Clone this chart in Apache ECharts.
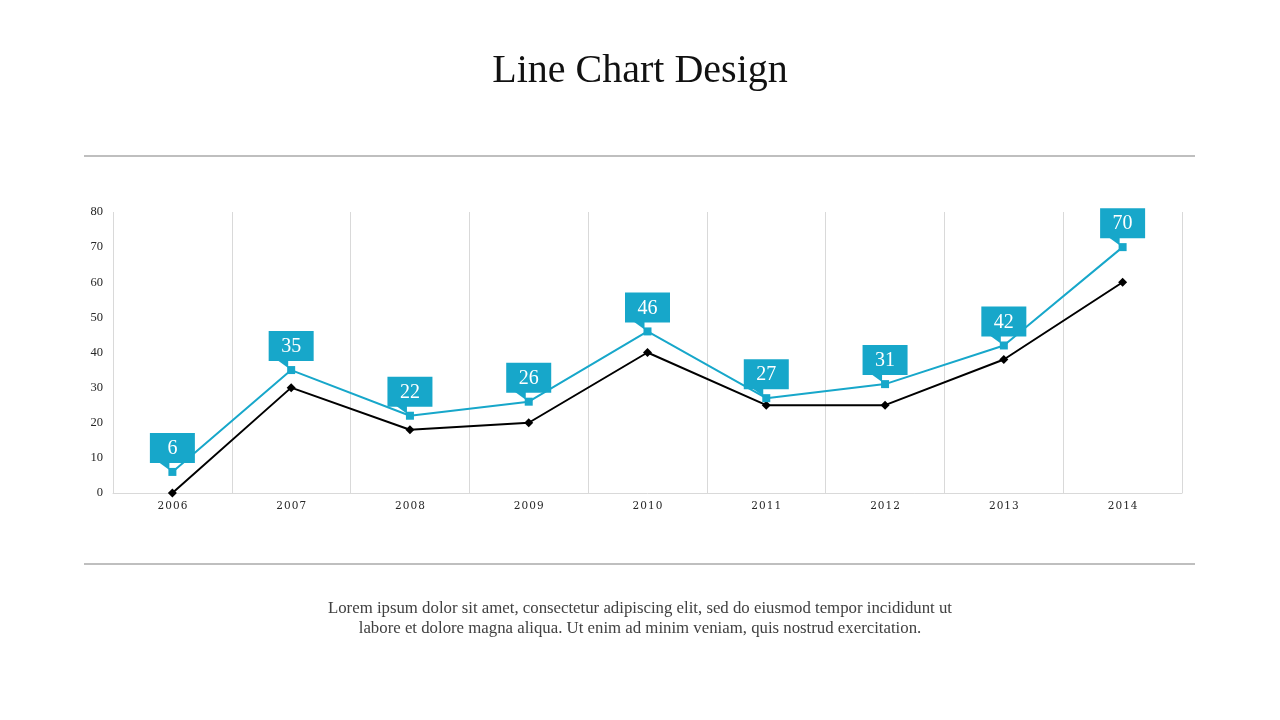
<!DOCTYPE html>
<html>
<head>
<meta charset="utf-8">
<script src="https://cdn.jsdelivr.net/npm/echarts@6/dist/echarts.min.js"></script>
<style>
html,body{margin:0;padding:0;background:#fff;}
#chart{width:1280px;height:720px;}
</style>
</head>
<body>
<div id="chart"></div>
<script>
const years = ['2006','2007','2008','2009','2010','2011','2012','2013','2014'];
const blueValues = [6, 35, 22, 26, 46, 27, 31, 42, 70];
const blackValues = [0, 30, 18, 20, 40, 25, 25, 38, 60];
const yTicks = [0, 10, 20, 30, 40, 50, 60, 70, 80];

const BLUE = '#17a7ca';
const SERIF = '"Liberation Serif", "DejaVu Serif", serif';

const chart = echarts.init(document.getElementById('chart'));

function renderCallout(params, api) {
  const idx = api.value(0);
  const val = api.value(1);
  const pt = api.coord([idx, val]);
  const x = pt[0], y = pt[1];
  const w = 45, h = 30, ptr = 9;
  const bottom = y - ptr;
  const top = bottom - h;
  return {
    type: 'group',
    children: [
      { type: 'rect', shape: { x: x - w / 2, y: top, width: w, height: h }, style: { fill: BLUE } },
      { type: 'polygon', shape: { points: [[x - 14, bottom - 1], [x - 3, bottom - 1], [x - 3, bottom + ptr - 2]] }, style: { fill: BLUE } },
      { type: 'text', style: { text: String(val), x: x, y: top + h / 2 + 1, align: 'center', verticalAlign: 'middle', fill: '#fff', font: '20px ' + SERIF } }
    ]
  };
}

chart.setOption({
  animation: false,
  title: {
    text: 'Line Chart Design',
    left: 'center',
    top: 46,
    textStyle: { fontFamily: SERIF, fontSize: 40, fontWeight: 'normal', color: '#111' }
  },
  graphic: [
    { type: 'line', shape: { x1: 84, y1: 156, x2: 1195, y2: 156 }, style: { stroke: '#bfbfbf', lineWidth: 2 } },
    { type: 'line', shape: { x1: 84, y1: 564, x2: 1195, y2: 564 }, style: { stroke: '#bfbfbf', lineWidth: 2 } },
    { type: 'text', x: 640, y: 599, style: {
        text: 'Lorem ipsum dolor sit amet, consectetur adipiscing elit, sed do eiusmod tempor incididunt ut\nlabore et dolore magna aliqua. Ut enim ad minim veniam, quis nostrud exercitation.',
        font: '16.8px ' + SERIF, fill: '#404040', align: 'center', verticalAlign: 'top', lineHeight: 20 } }
  ],
  grid: { left: 113, right: 98, top: 212, bottom: 227 },
  xAxis: {
    type: 'category',
    data: years,
    boundaryGap: true,
    axisLine: { show: true, lineStyle: { color: '#d9d9d9', width: 1 } },
    axisTick: { show: false },
    splitLine: { show: true, lineStyle: { color: '#d9d9d9', width: 1 } },
    axisLabel: { color: '#262626', fontFamily: '"DejaVu Serif", serif', fontSize: 10.5, margin: 8,
      formatter: v => v.split('').join('\u200a') }
  },
  yAxis: {
    type: 'value',
    min: 0, max: 80, interval: 10,
    axisLine: { show: false },
    axisTick: { show: false },
    splitLine: { show: false },
    axisLabel: { color: '#262626', fontFamily: SERIF, fontSize: 12.5, margin: 10,
      formatter: v => yTicks.indexOf(v) >= 0 ? String(v) : '' }
  },
  series: [
    {
      type: 'line', data: blackValues,
      symbol: 'diamond', symbolSize: 9,
      lineStyle: { color: '#000', width: 2 },
      itemStyle: { color: '#000' },
      z: 2
    },
    {
      type: 'line', data: blueValues,
      symbol: 'rect', symbolSize: 8,
      lineStyle: { color: BLUE, width: 2 },
      itemStyle: { color: BLUE },
      z: 3
    },
    {
      type: 'custom',
      data: blueValues.map((v, i) => [i, v]),
      renderItem: renderCallout,
      z: 5
    }
  ]
});
</script>
</body>
</html>
